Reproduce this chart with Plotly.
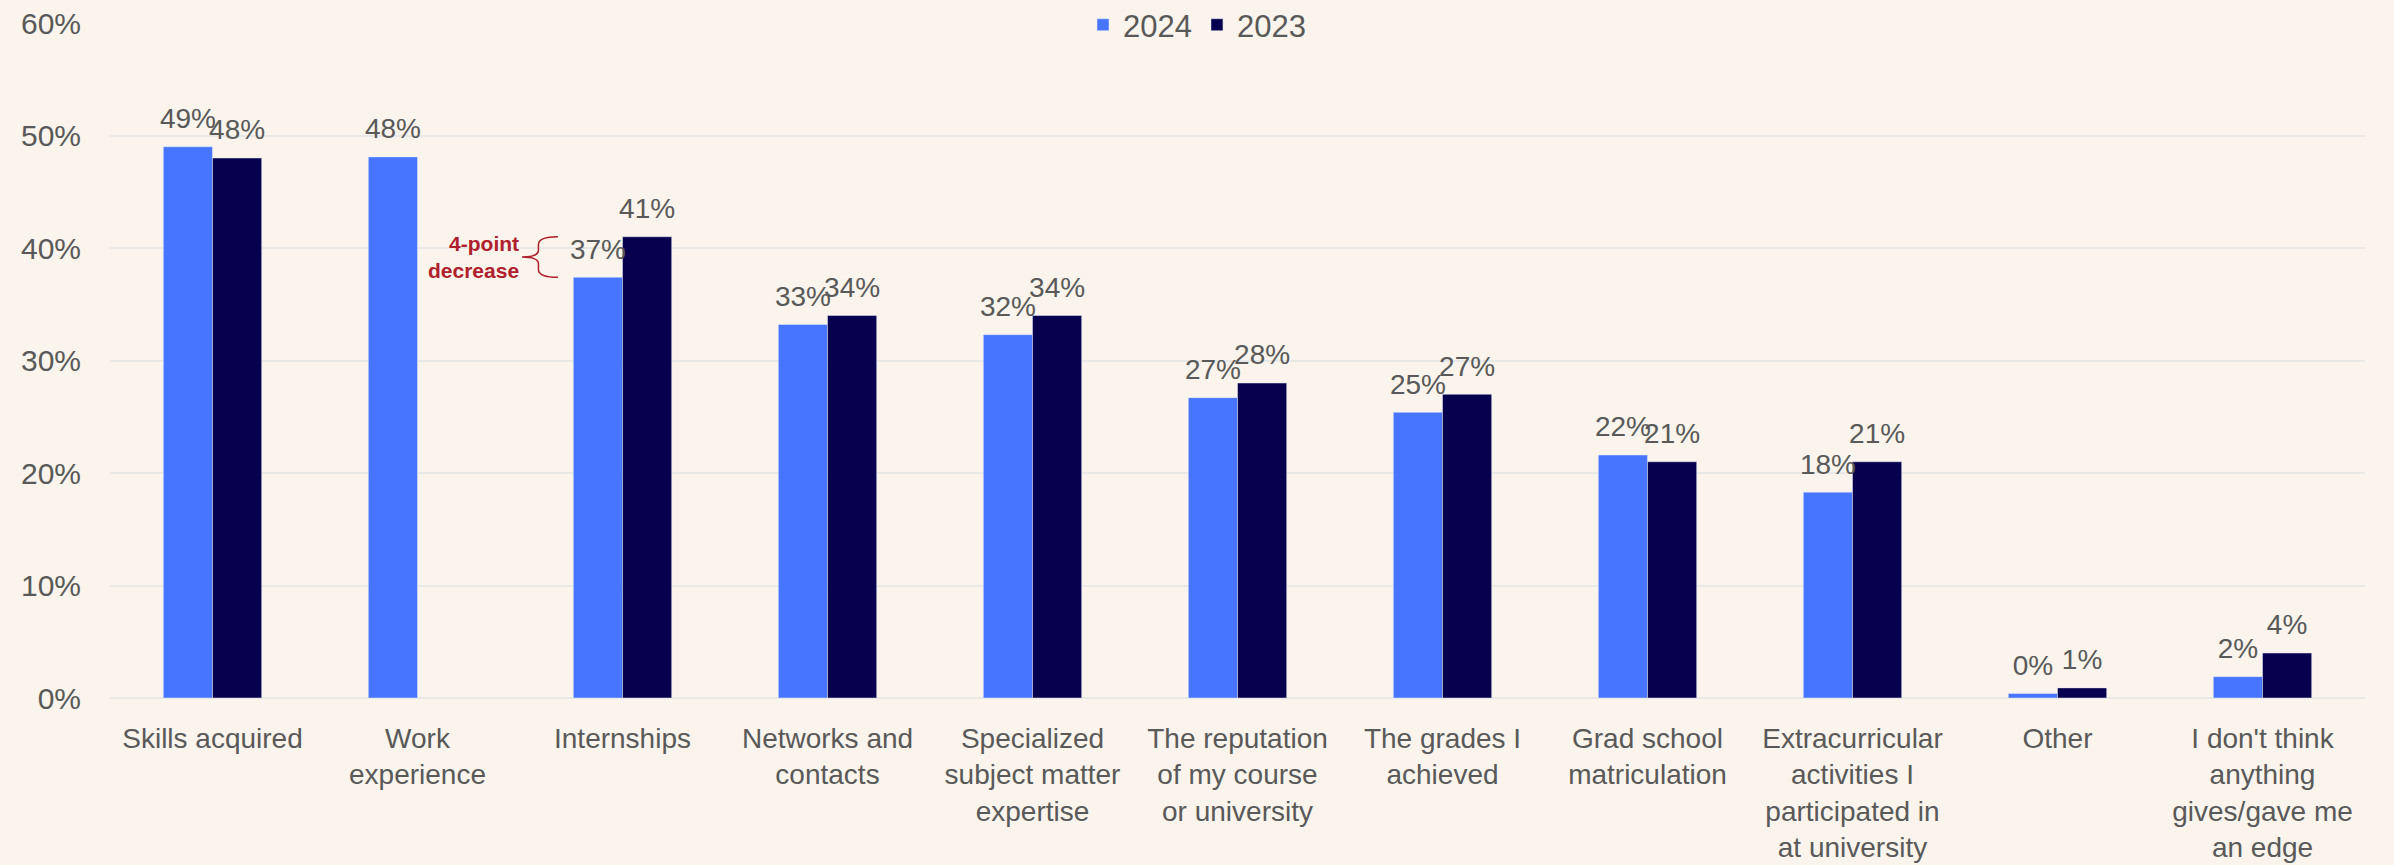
import plotly.graph_objects as go

categories = [
    "Skills acquired",
    "Work<br>experience",
    "Internships",
    "Networks and<br>contacts",
    "Specialized<br>subject matter<br>expertise",
    "The reputation<br>of my course<br>or university",
    "The grades I<br>achieved",
    "Grad school<br>matriculation",
    "Extracurricular<br>activities I<br>participated in<br>at university",
    "Other",
    "I don't think<br>anything<br>gives/gave me<br>an edge",
]
values_2024 = [49.0, 48.1, 37.4, 33.2, 32.3, 26.7, 25.4, 21.6, 18.3, 0.4, 1.9]
values_2023 = [48.0, None, 41.0, 34.0, 34.0, 28.0, 27.0, 21.0, 21.0, 0.9, 4.0]
labels_2024 = ["49%", "48%", "37%", "33%", "32%", "27%", "25%", "22%", "18%", "0%", "2%"]
labels_2023 = ["48%", "", "41%", "34%", "34%", "28%", "27%", "21%", "21%", "1%", "4%"]
y_ticks = [0, 10, 20, 30, 40, 50, 60]
y_tick_labels = ["0%", "10%", "20%", "30%", "40%", "50%", "60%"]

BLUE = "#4775FF"
NAVY = "#06004F"
TEXT = "#595959"
BG = "#FAF4EC"
GRID = "#E8E8E6"
RED = "#B0202C"
BARGAP = 0.52

fig = go.Figure()
for name, vals, color in [("2024", values_2024, BLUE), ("2023", values_2023, NAVY)]:
    fig.add_trace(go.Bar(name=name, x=categories, y=vals, marker_color=color,
                         offsetgroup=name))
# value labels, grouped like the bars (invisible markers set the text offset)
for name, vals, labels in [("2024", values_2024, labels_2024), ("2023", values_2023, labels_2023)]:
    fig.add_trace(go.Scatter(
        x=categories, y=vals, text=labels, mode="markers+text", textposition="top center",
        marker=dict(size=17, opacity=0), offsetgroup=name, showlegend=False, cliponaxis=False,
        textfont=dict(size=28, color=TEXT, family="Liberation Sans, Arial"),
        hoverinfo="skip",
    ))

# curly brace for the "4-point decrease" callout (Internships, index 2)
brace = ("M 1.685,41 Q 1.59,41 1.59,40.3 L 1.59,39.8 Q 1.59,39.2 1.51,39.2 "
         "Q 1.59,39.2 1.59,38.6 L 1.59,38.1 Q 1.59,37.4 1.685,37.4")
fig.add_shape(type="path", path=brace, xref="x", yref="y",
              line=dict(color=RED, width=1.5))
fig.add_annotation(x=1.505, y=39.2, xref="x", yref="y", text="<b>4-point<br>decrease</b>",
                   showarrow=False, xanchor="right", yanchor="middle", align="right",
                   font=dict(size=21, color=RED, family="Liberation Sans, Arial"))

fig.update_layout(
    width=2394, height=865,
    barmode="group", bargap=BARGAP, bargroupgap=0,
    scattermode="group", scattergap=BARGAP,
    paper_bgcolor=BG, plot_bgcolor=BG,
    margin=dict(l=110, r=29, t=23, b=167, autoexpand=False),
    font=dict(family="Liberation Sans, Arial", color=TEXT, size=30),
    legend=dict(orientation="h", x=0.5, xanchor="center", xref="container",
                y=0.971, yref="container", yanchor="middle",
                font=dict(size=31, color=TEXT), bgcolor="rgba(0,0,0,0)",
                itemwidth=30),
    showlegend=True,
)
fig.update_yaxes(range=[0, 60], tickvals=y_ticks, ticktext=y_tick_labels,
                 gridcolor=GRID, gridwidth=2, zeroline=True, zerolinecolor=GRID,
                 zerolinewidth=2, tickfont=dict(size=30, color=TEXT),
                 ticklabelstandoff=28, showline=False, automargin=False)
fig.update_xaxes(tickfont=dict(size=28, color=TEXT, family="Liberation Sans, Arial"),
                 showline=False, ticks="", tickangle=0, automargin=False,
                 ticklabelstandoff=21)

fig.write_html(
    "out.html",
    config={"displayModeBar": False},
    post_script="document.body.style.margin='0';document.body.style.background='#FAF4EC';",
)
